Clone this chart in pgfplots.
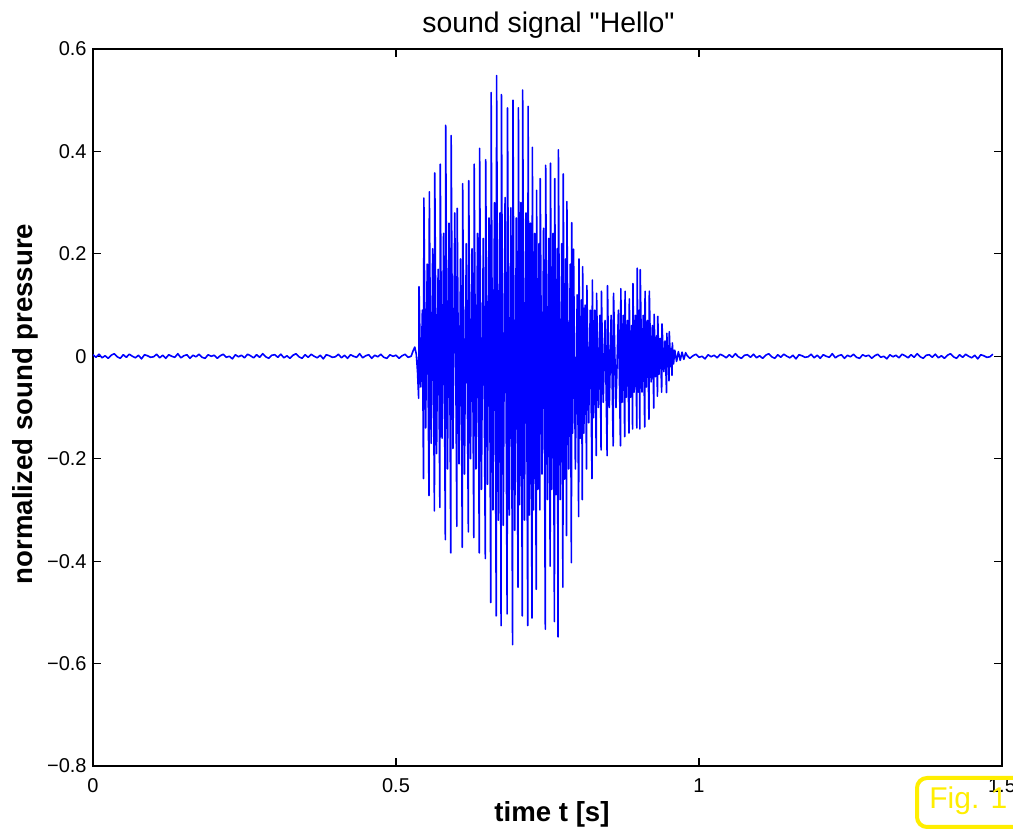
\documentclass[border=0pt]{standalone}
\usepackage{fontspec}
\setmainfont{Liberation Sans}
\usepackage{pgfplots}
\pgfplotsset{compat=1.18}
\definecolor{figyellow}{RGB}{255,238,0}
\begin{document}
\begin{tikzpicture}
\begin{axis}[
  at={(0,0)}, anchor=south west,
  scale only axis,
  width=454.5pt, height=358.5pt,
  xmin=0, xmax=1.5, ymin=-0.8, ymax=0.6,
  xtick={0,0.5,1,1.5}, xticklabels={0,0.5,1,1.5},
  ytick={-0.8,-0.6,-0.4,-0.2,0,0.2,0.4,0.6},
  yticklabels={−0.8,−0.6,−0.4,−0.2,0,0.2,0.4,0.6},
  tick align=inside, tick pos=both, major tick length=4.2pt,
  ticklabel style={font=\fontsize{10}{12}\selectfont},
  yticklabel style={inner sep=0pt, xshift=-3pt},
  xticklabel style={inner sep=0pt, yshift=-6pt},
  axis line style={line width=0.7pt},
  every tick/.style={black, line width=0.6pt},
]
\addplot[color={rgb,255:red,0;green,0;blue,255}, line width=0.8pt, line join=round, mark=none] coordinates {
(0.000,0.003)(0.005,-0.002)(0.010,0.004)(0.015,-0.003)(0.020,0.001)(0.025,-0.004)(0.030,0.002)(0.035,0.005)(0.040,-0.001)(0.045,-0.004)(0.050,0.003)(0.055,-0.002)(0.060,0.004)(0.065,0.000)(0.070,-0.003)(0.075,0.002)(0.080,-0.005)(0.085,0.003)(0.090,0.001)(0.095,-0.002)
(0.100,-0.001)(0.105,0.004)(0.110,-0.003)(0.115,0.002)(0.120,-0.004)(0.125,0.003)(0.130,0.000)(0.135,-0.002)(0.140,0.005)(0.145,-0.003)(0.150,0.001)(0.155,0.003)(0.160,-0.004)(0.165,0.002)(0.170,-0.001)(0.175,0.004)(0.180,-0.002)(0.185,-0.004)(0.190,0.003)(0.195,0.000)
(0.200,0.002)(0.205,-0.004)(0.210,0.001)(0.215,0.004)(0.220,-0.002)(0.225,0.000)(0.230,-0.005)(0.235,0.003)(0.240,-0.001)(0.245,0.002)(0.250,-0.003)(0.255,0.004)(0.260,0.001)(0.265,-0.003)(0.270,0.003)(0.275,-0.002)(0.280,0.005)(0.285,-0.001)(0.290,-0.004)(0.295,0.002)
(0.300,0.003)(0.305,-0.002)(0.310,0.004)(0.315,-0.003)(0.320,0.001)(0.325,-0.004)(0.330,0.002)(0.335,0.005)(0.340,-0.001)(0.345,-0.004)(0.350,0.003)(0.355,-0.002)(0.360,0.004)(0.365,0.000)(0.370,-0.003)(0.375,0.002)(0.380,-0.005)(0.385,0.003)(0.390,0.001)(0.395,-0.002)
(0.400,-0.001)(0.405,0.004)(0.410,-0.003)(0.415,0.002)(0.420,-0.004)(0.425,0.003)(0.430,0.000)(0.435,-0.002)(0.440,0.005)(0.445,-0.003)(0.450,0.001)(0.455,0.003)(0.460,-0.004)(0.465,0.002)(0.470,-0.001)(0.475,0.004)(0.480,-0.002)(0.485,-0.004)(0.490,0.003)(0.495,0.000)
(0.500,0.002)(0.505,-0.004)(0.510,0.001)(0.515,0.004)(0.520,-0.002)(0.525,0.000)
(0.528,0.010)(0.531,0.018)(0.5335,0.004)(0.5355,-0.030)
(0.5374,-0.082)(0.538,0.136)(0.541,-0.060)(0.5435,0.090)
(0.5454,-0.239)(0.546,0.309)(0.549,-0.140)(0.5515,0.180)
(0.5544,-0.272)(0.555,0.321)(0.558,-0.170)(0.5605,0.210)
(0.5634,-0.302)(0.564,0.358)(0.567,-0.190)(0.5695,0.170)
(0.5724,-0.295)(0.573,0.375)(0.576,-0.160)(0.5785,0.240)
(0.5814,-0.358)(0.582,0.451)(0.585,-0.220)(0.5875,0.260)
(0.5904,-0.384)(0.591,0.431)(0.594,-0.180)(0.597,0.280)
(0.6004,-0.332)(0.601,0.289)(0.604,-0.210)(0.6065,0.190)
(0.6094,-0.373)(0.610,0.337)(0.613,-0.230)(0.616,0.220)
(0.6194,-0.343)(0.620,0.343)(0.623,-0.200)(0.6255,0.210)
(0.6284,-0.354)(0.629,0.375)(0.632,-0.220)(0.6345,0.240)
(0.6374,-0.384)(0.638,0.406)(0.641,-0.260)(0.644,0.230)
(0.6474,-0.395)(0.648,0.384)(0.651,-0.250)(0.6535,0.270)
(0.6564,-0.481)(0.657,0.515)(0.660,-0.300)(0.6625,0.300)
(0.6654,-0.507)(0.666,0.548)(0.669,-0.320)(0.6715,0.280)
(0.6734,-0.526)(0.674,0.511)(0.677,-0.330)(0.680,0.310)
(0.6834,-0.503)(0.684,0.485)(0.687,-0.310)(0.6895,0.290)
(0.6924,-0.563)(0.693,0.500)(0.696,-0.340)(0.6985,0.270)
(0.7014,-0.451)(0.702,0.485)(0.704,-0.290)(0.706,0.300)
(0.7084,-0.507)(0.709,0.520)(0.712,-0.320)(0.7145,0.280)
(0.7174,-0.526)(0.718,0.488)(0.720,-0.310)(0.722,0.260)
(0.7244,-0.511)(0.725,0.408)(0.727,-0.300)(0.729,0.240)
(0.7314,-0.455)(0.732,0.324)(0.734,-0.260)(0.736,0.220)
(0.7374,-0.300)(0.738,0.347)(0.741,-0.230)(0.7435,0.250)
(0.7464,-0.533)(0.747,0.373)(0.750,-0.280)(0.752,0.230)
(0.7544,-0.410)(0.755,0.377)(0.757,-0.260)(0.759,0.240)
(0.7614,-0.518)(0.762,0.347)(0.764,-0.270)(0.766,0.210)
(0.7674,-0.548)(0.768,0.403)(0.771,-0.280)(0.7735,0.220)
(0.7754,-0.451)(0.776,0.356)(0.778,-0.240)(0.780,0.190)
(0.7814,-0.350)(0.782,0.302)(0.785,-0.220)(0.7875,0.180)
(0.7894,-0.403)(0.790,0.261)(0.7915,-0.150)(0.793,0.209)(0.796,-0.220)(0.799,0.120)
(0.8014,-0.313)(0.802,0.190)(0.804,-0.160)(0.806,0.110)
(0.8074,-0.280)(0.808,0.175)(0.810,-0.150)(0.812,0.100)
(0.8144,-0.220)(0.815,0.138)(0.818,-0.130)(0.8205,0.090)
(0.8234,-0.239)(0.824,0.149)(0.826,-0.120)(0.828,0.090)
(0.8304,-0.194)(0.831,0.123)(0.834,-0.100)(0.8365,0.080)
(0.8384,-0.183)(0.839,0.127)(0.842,-0.090)(0.845,0.070)
(0.8484,-0.194)(0.849,0.138)(0.852,-0.100)(0.855,0.080)
(0.8584,-0.175)(0.859,0.123)(0.863,-0.100)(0.867,0.090)
(0.8704,-0.175)(0.871,0.132)(0.873,-0.090)(0.875,0.080)
(0.8774,-0.157)(0.878,0.127)(0.880,-0.080)(0.882,0.070)
(0.8844,-0.150)(0.885,0.112)(0.887,-0.080)(0.889,0.060)
(0.8904,-0.142)(0.891,0.142)(0.893,-0.070)(0.895,0.080)
(0.8974,-0.140)(0.898,0.172)(0.8997,-0.070)(0.9013,0.090)
(0.9024,-0.142)(0.903,0.169)(0.906,-0.070)(0.908,0.080)
(0.9104,-0.138)(0.911,0.127)(0.913,-0.060)(0.915,0.070)
(0.9174,-0.123)(0.918,0.127)(0.921,-0.050)(0.923,0.060)
(0.9254,-0.101)(0.926,0.082)(0.928,-0.040)(0.930,0.040)
(0.9314,-0.078)(0.932,0.078)(0.934,-0.035)(0.936,0.035)
(0.9384,-0.070)(0.939,0.063)(0.942,-0.030)(0.944,0.030)
(0.9464,-0.071)(0.947,0.045)(0.948,-0.020)(0.949,0.020)
(0.9504,-0.048)(0.951,0.048)(0.953,-0.020)(0.954,0.015)
(0.9554,-0.037)(0.956,0.026)(0.958,-0.015)(0.960,0.012)
(0.963,-0.010)(0.966,0.009)(0.969,-0.008)(0.972,0.008)(0.975,-0.006)(0.978,0.007)
(0.980,0.002)(0.985,-0.004)(0.990,0.001)(0.995,0.004)(1.000,-0.002)(1.005,0.000)(1.010,-0.005)(1.015,0.003)(1.020,-0.001)(1.025,0.002)(1.030,-0.003)(1.035,0.004)(1.040,0.001)(1.045,-0.003)(1.050,0.003)(1.055,-0.002)(1.060,0.005)(1.065,-0.001)(1.070,-0.004)(1.075,0.002)
(1.080,0.003)(1.085,-0.002)(1.090,0.004)(1.095,-0.003)(1.100,0.001)(1.105,-0.004)(1.110,0.002)(1.115,0.005)(1.120,-0.001)(1.125,-0.004)(1.130,0.003)(1.135,-0.002)(1.140,0.004)(1.145,0.000)(1.150,-0.003)(1.155,0.002)(1.160,-0.005)(1.165,0.003)(1.170,0.001)(1.175,-0.002)
(1.180,-0.001)(1.185,0.004)(1.190,-0.003)(1.195,0.002)(1.200,-0.004)(1.205,0.003)(1.210,0.000)(1.215,-0.002)(1.220,0.005)(1.225,-0.003)(1.230,0.001)(1.235,0.003)(1.240,-0.004)(1.245,0.002)(1.250,-0.001)(1.255,0.004)(1.260,-0.002)(1.265,-0.004)(1.270,0.003)(1.275,0.000)
(1.280,0.002)(1.285,-0.004)(1.290,0.001)(1.295,0.004)(1.300,-0.002)(1.305,0.000)(1.310,-0.005)(1.315,0.003)(1.320,-0.001)(1.325,0.002)(1.330,-0.003)(1.335,0.004)(1.340,0.001)(1.345,-0.003)(1.350,0.003)(1.355,-0.002)(1.360,0.005)(1.365,-0.001)(1.370,-0.004)(1.375,0.002)
(1.380,0.003)(1.385,-0.002)(1.390,0.004)(1.395,-0.003)(1.400,0.001)(1.405,-0.004)(1.410,0.002)(1.415,0.005)(1.420,-0.001)(1.425,-0.004)(1.430,0.003)(1.435,-0.002)(1.440,0.004)(1.445,0.000)(1.450,-0.003)(1.455,0.002)(1.460,-0.005)(1.465,0.003)(1.470,0.001)(1.475,-0.002)
(1.480,-0.001)(1.485,0.004)
};
\end{axis}
% title and axis labels
\node[anchor=base, inner sep=0pt, font=\fontsize{14.2}{16}\selectfont] at (227.75pt,366.65pt) {sound signal \textquotedbl Hello\textquotedbl};
\node[anchor=base, inner sep=0pt, font=\bfseries\fontsize{13.8}{16}\selectfont] at (229.5pt,-27.85pt) {time t [s]};
\node[anchor=base, rotate=90, inner sep=0pt, font=\bfseries\fontsize{13.8}{16}\selectfont] at (-30.2pt,181pt) {normalized sound pressure};
% Fig. 1 tag
\draw[figyellow, line width=2pt, rounded corners=5pt] (412pt,-6pt) rectangle (485pt,-30.5pt);
\node[anchor=base west, inner sep=0pt, text=figyellow, font=\fontsize{15}{18}\selectfont] at (418pt,-21.5pt) {Fig. 1};
\pgfresetboundingbox
\path[use as bounding box] (-46.5pt,-32pt) rectangle (460pt,383pt);
\end{tikzpicture}
\end{document}
